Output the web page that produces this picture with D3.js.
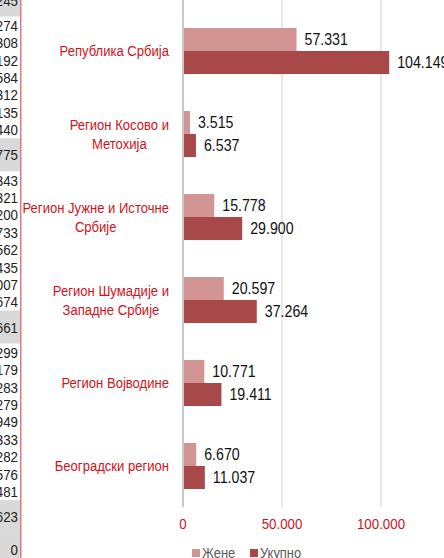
<!DOCTYPE html>
<html lang="sr">
<head>
<meta charset="utf-8">
<style>
  body { margin: 0; background: #fff; }
  svg text { font-family: "Liberation Sans", Arial, sans-serif; }
</style>
</head>
<body>
<svg width="444" height="558"></svg>
<script src="https://cdn.jsdelivr.net/npm/d3@7"></script>
<script>
// chart data (\n = where the label wraps)
var categories = ['Република Србија', 'Регион Косово и\nМетохија', 'Регион Јужне и Источне\nСрбије',
  'Регион Шумадије и\nЗападне Србије', 'Регион Војводине', 'Београдски регион']
var seriesNames = ['Жене', 'Укупно']
var zene = [57331, 3515, 15778, 20597, 10771, 6670]
var ukupno = [104149, 6537, 29900, 37264, 19411, 11037]
var xTicks = [0, 50000, 100000]

// spreadsheet strip showing on the left edge
var stripRows = ['245', '274', '308', '192', '584', '312', '135', '440', '775', '343', '321', '200', '733',
  '562', '435', '007', '674', '661', '299', '179', '283', '279', '949', '333', '282', '576', '481', '623', '0']
var stripGray = ['245', '775', '661', '623', '0']

var colors = ['#d39494', '#a94848']
var red = '#d0121b'
var narrow = 0.86 // squeeze Liberation Sans to look like Arial Narrow

var svg = d3.select('svg')
var loc = d3.formatLocale({ decimal: ',', thousands: '.', grouping: [3], currency: ['', ''] })
var fmt = loc.format(',d')

// text squeezed horizontally around its anchor point
function ntext (parent, x, y, str, size, fill, anchor) {
  return parent.append('g').attr('transform', 'translate(' + x + ',' + y + ') scale(' + narrow + ',1)')
    .append('text').attr('dy', '0.36em').attr('font-size', size).attr('fill', fill)
    .attr('text-anchor', anchor || 'start').text(str)
}

// left strip
var strip = svg.append('g')
var yy = -16.5
stripRows.forEach(function (t) {
  var gray = stripGray.indexOf(t) >= 0
  var h = gray ? 33 : 17.4
  if (gray) strip.append('rect').attr('x', 0).attr('y', yy).attr('width', 20).attr('height', h).attr('fill', '#d9d9d9')
  ntext(strip, 18, yy + h / 2, t, 15.5, '#222', 'end')
  yy += h
})
strip.append('rect').attr('x', 20).attr('y', 0).attr('width', 1.5).attr('height', 558).attr('fill', '#e07a7a')

var x = d3.scaleLinear().domain([0, 100000]).range([183, 381])
var y0 = d3.scaleBand().domain(categories).range([9.5, 507.5]).paddingInner(0.445).paddingOuter(0.2225)
var y1 = d3.scaleBand().domain(seriesNames).range([0, y0.bandwidth()])

// gridlines
svg.append('g').selectAll('line').data(xTicks).enter().append('line')
  .attr('x1', function (d) { return x(d) }).attr('x2', function (d) { return x(d) })
  .attr('y1', 0).attr('y2', 507)
  .attr('stroke', function (d) { return d === 0 ? '#c8c8c8' : '#d9d9d9' })
  .attr('stroke-width', function (d) { return d === 0 ? 2 : 1.2 })

var tickG = svg.append('g')
xTicks.forEach(function (d) { ntext(tickG, x(d), 523, fmt(d), 15.5, red, 'middle') })

var rows = categories.map(function (c, i) {
  return { name: c, values: [{ key: 'Жене', value: zene[i] }, { key: 'Укупно', value: ukupno[i] }] }
})

var groups = svg.append('g').selectAll('g').data(rows).enter().append('g')
  .attr('transform', function (d) { return 'translate(0,' + y0(d.name) + ')' })

groups.selectAll('rect').data(function (d) { return d.values }).enter().append('rect')
  .attr('x', x(0) + 1)
  .attr('y', function (d) { return y1(d.key) })
  .attr('width', function (d) { return x(d.value) - x(0) - 1 })
  .attr('height', y1.bandwidth())
  .attr('fill', function (d, i) { return colors[i] })

groups.each(function (d) {
  var g = d3.select(this)
  d.values.forEach(function (v) {
    ntext(g, x(v.value) + 8, y1(v.key) + y1.bandwidth() / 2, fmt(v.value), 16.5, '#111')
  })
})

// category labels, lines centered in a block ending near the axis
groups.each(function (d) {
  var g = d3.select(this)
  var lines = d.name.split('\n')
  var probe = g.append('text').attr('font-size', 15.2)
  var maxW = d3.max(lines, function (l) { probe.text(l); return probe.node().getComputedTextLength() * narrow })
  probe.remove()
  var cx = 169 - maxW / 2
  var mid = y0.bandwidth() / 2
  lines.forEach(function (l, i) {
    ntext(g, cx, mid + (i - (lines.length - 1) / 2) * 19, l, 15.2, red, 'middle')
  })
})

// legend
var legend = svg.append('g').selectAll('g').data(seriesNames).enter().append('g')
  .attr('transform', function (d, i) { return 'translate(' + (192 + i * 58) + ',549)' })
legend.append('rect').attr('width', 8).attr('height', 8).attr('fill', function (d, i) { return colors[i] })
legend.each(function (d) { ntext(d3.select(this), 10, 4, d, 15, '#595959') })
</script>
</body>
</html>
